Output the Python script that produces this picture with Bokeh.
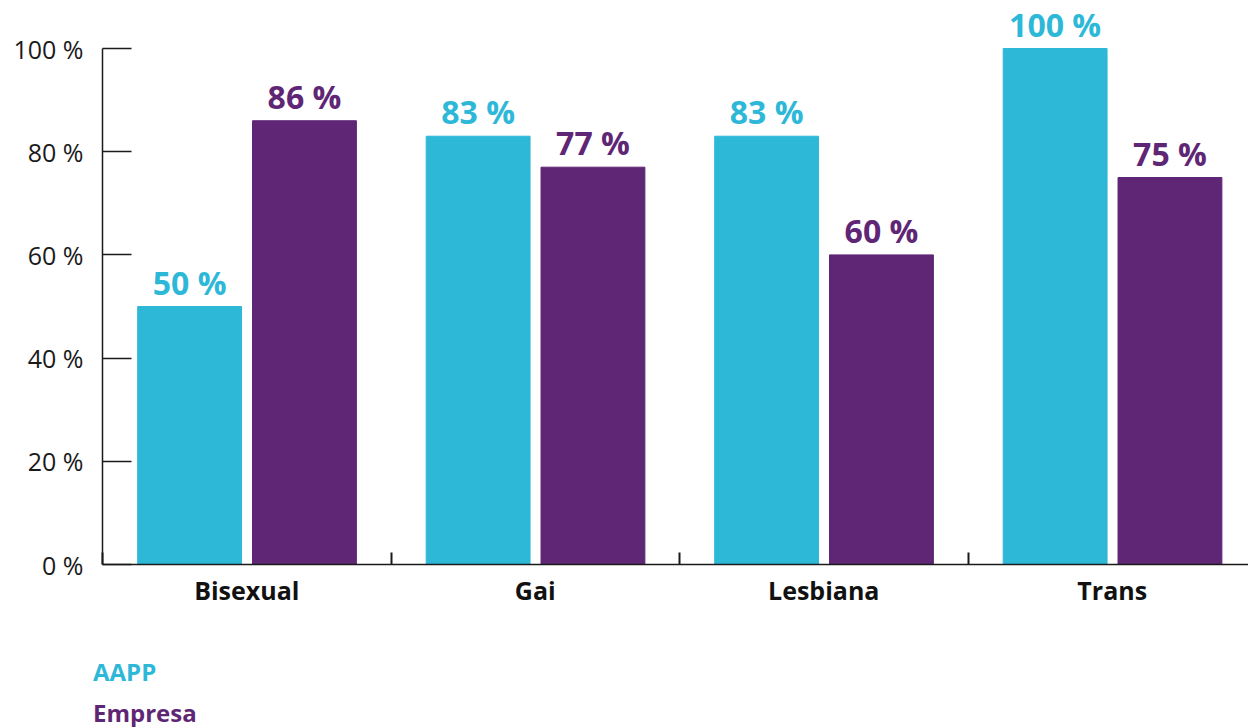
from bokeh.plotting import figure
from bokeh.layouts import column
from bokeh.models import Range1d, FixedTicker, LinearAxis, ColumnDataSource, Div
from bokeh.core.properties import value
from bokeh.embed import file_html
from bokeh.resources import INLINE

categories = ["Bisexual", "Gai", "Lesbiana", "Trans"]
aapp = [50, 83, 83, 100]
empresa = [86, 77, 60, 75]
series_names = ["AAPP", "Empresa"]
y_ticks = [0, 20, 40, 60, 80, 100]

C_AAPP = "#2EB8D8"
C_EMP = "#5F2675"
FONT = "Open Sans"

px_per_cat = 288.5
frame_w = 1248 - 102
x_end = frame_w / px_per_cat
px_per_pct = 5.16
frame_h = 562
y_end = frame_h / px_per_pct

p = figure(width=1248, height=647, output_backend="svg", toolbar_location=None,
           x_range=Range1d(0, x_end), y_range=Range1d(0, y_end),
           min_border_left=102, min_border_right=0, min_border_top=2,
           min_border_bottom=83, x_axis_type=None, y_axis_type=None)
p.outline_line_color = None
p.grid.visible = False
p.background_fill_color = "white"

idx = list(range(len(categories)))
x_a = [i + 0.302 for i in idx]
x_e = [i + 0.70 for i in idx]
src = ColumnDataSource(dict(xa=x_a, xe=x_e, a=aapp, e=empresa,
                            la=[f"{v} %" for v in aapp], le=[f"{v} %" for v in empresa]))
p.vbar(x="xa", top="a", width=0.36, bottom=0, source=src, color=C_AAPP)
p.vbar(x="xe", top="e", width=0.36, bottom=0, source=src, color=C_EMP)
p.text(x="xa", y="a", text="la", source=src, text_align="center", text_baseline="bottom",
       y_offset=-3, text_font=value(FONT), text_font_style="bold", text_font_size="32px",
       text_color=C_AAPP)
p.text(x="xe", y="e", text="le", source=src, text_align="center", text_baseline="bottom",
       y_offset=-3, text_font=value(FONT), text_font_style="bold", text_font_size="32px",
       text_color=C_EMP)

# y axis
yax = LinearAxis(ticker=FixedTicker(ticks=y_ticks), bounds=(0, 100),
                 major_label_overrides={t: f"{t} %" for t in y_ticks})
yax.major_tick_in = 29
yax.major_tick_out = 0
yax.minor_tick_line_color = None
yax.axis_line_color = "#1a1a1a"
yax.axis_line_width = 1.5
yax.major_tick_line_color = "#1a1a1a"
yax.major_tick_line_width = 1.5
yax.major_label_text_font = FONT
yax.major_label_text_font_size = "25px"
yax.major_label_text_color = "#1a1a1a"
yax.major_label_standoff = 19
p.add_layout(yax, "left")

# x axis
xax = LinearAxis(ticker=FixedTicker(ticks=[i + 0.5 for i in idx], minor_ticks=[0, 1, 2, 3, 4]),
                 major_label_overrides={i + 0.5: c for i, c in zip(idx, categories)})
xax.major_tick_in = 0
xax.major_tick_out = 0
xax.minor_tick_in = 12
xax.minor_tick_out = 0
xax.minor_tick_line_color = "#1a1a1a"
xax.minor_tick_line_width = 2
xax.axis_line_color = "#1a1a1a"
xax.axis_line_width = 1.5
xax.major_label_text_font = FONT
xax.major_label_text_font_style = "bold"
xax.major_label_text_font_size = "25px"
xax.major_label_text_color = "#111111"
xax.major_label_standoff = 8
p.add_layout(xax, "below")

# legend (text only) below the chart
items = []
for i, (n, c) in enumerate(zip(series_names, [C_AAPP, C_EMP])):
    mt = 11 if i == 0 else 13
    items.append(f"<div style=\"color:{c};margin-top:{mt}px;line-height:28px;height:28px\">{n}</div>")
leg_html = (
    f"<div style=\"font-family:'{FONT}';font-weight:bold;font-size:24px;"
    "padding-left:93px;margin:0;overflow:visible\">" + "".join(items) + "</div>"
)
leg = Div(text=leg_html, width=1248, height=80, margin=(0, 0, 0, 0))

layout = column(p, leg, spacing=0)
open("out.html", "w").write(file_html(layout, INLINE))
